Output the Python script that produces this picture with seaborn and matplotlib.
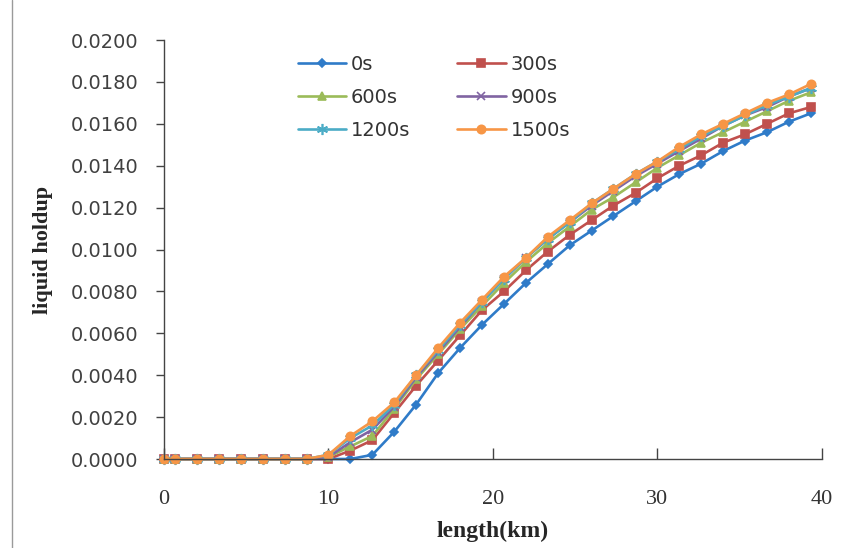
import matplotlib
matplotlib.use("Agg")
import matplotlib.pyplot as plt
import seaborn as sns
import pandas as pd
from matplotlib.lines import Line2D

length_km = [0, 0.67, 2.0, 3.33, 4.67, 6.0, 7.33, 8.67, 10.0, 11.33, 12.67, 14.0, 15.33,
             16.67, 18.0, 19.33, 20.67, 22.0, 23.33, 24.67, 26.0, 27.33, 28.67, 30.0,
             31.33, 32.67, 34.0, 35.33, 36.67, 38.0, 39.33]

holdup_0s = [0, 0, 0, 0, 0, 0, 0, 0, 0, 0.0000, 0.0002, 0.0013, 0.0026, 0.0041, 0.0053,
             0.0064, 0.0074, 0.0084, 0.0093, 0.0102, 0.0109, 0.0116, 0.0123, 0.0130,
             0.0136, 0.0141, 0.0147, 0.0152, 0.0156, 0.0161, 0.0165]
holdup_300s = [0, 0, 0, 0, 0, 0, 0, 0, 0, 0.0004, 0.0009, 0.0022, 0.0035, 0.0047, 0.0059,
               0.0071, 0.0080, 0.0090, 0.0099, 0.0107, 0.0114, 0.0121, 0.0127, 0.0134,
               0.0140, 0.0145, 0.0151, 0.0155, 0.0160, 0.0165, 0.0168]
holdup_600s = [0, 0, 0, 0, 0, 0, 0, 0, 0.0001, 0.0006, 0.0011, 0.0024, 0.0038, 0.0050, 0.0062,
               0.0073, 0.0084, 0.0094, 0.0103, 0.0111, 0.0119, 0.0125, 0.0132, 0.0139,
               0.0145, 0.0151, 0.0156, 0.0161, 0.0166, 0.0171, 0.0175]
holdup_900s = [0, 0, 0, 0, 0, 0, 0, 0, 0.0001, 0.0008, 0.0014, 0.0025, 0.0039, 0.0051, 0.0063,
               0.0075, 0.0086, 0.0096, 0.0105, 0.0113, 0.0121, 0.0128, 0.0135, 0.0141,
               0.0147, 0.0153, 0.0159, 0.0164, 0.0168, 0.0173, 0.0177]
holdup_1200s = [0, 0, 0, 0, 0, 0, 0, 0, 0.0002, 0.0010, 0.0016, 0.0026, 0.0040, 0.0052, 0.0064,
                0.0075, 0.0086, 0.0096, 0.0105, 0.0113, 0.0122, 0.0129, 0.0136, 0.0142,
                0.0148, 0.0154, 0.0159, 0.0164, 0.0169, 0.0173, 0.0177]
holdup_1500s = [0, 0, 0, 0, 0, 0, 0, 0, 0.0002, 0.0011, 0.0018, 0.0027, 0.0040, 0.0053, 0.0065,
                0.0076, 0.0087, 0.0096, 0.0106, 0.0114, 0.0122, 0.0129, 0.0136, 0.0142,
                0.0149, 0.0155, 0.0160, 0.0165, 0.0170, 0.0174, 0.0179]

series_names = ["0s", "300s", "600s", "900s", "1200s", "1500s"]
series_values = [holdup_0s, holdup_300s, holdup_600s, holdup_900s, holdup_1200s, holdup_1500s]
colors = ["#2f7bc8", "#c0504d", "#9bbb59", "#8064a2", "#4bacc6", "#f79646"]
markers = ["D", "s", "^", "x", (6, 2, 0), "o"]
msizes = [4.5, 5.5, 6, 6, 8, 6]

x_ticks = [0, 10, 20, 30, 40]
y_ticks = [0.0, 0.002, 0.004, 0.006, 0.008, 0.010, 0.012, 0.014, 0.016, 0.018, 0.020]

sns.set_style("white")
plt.rcParams["font.family"] = ["DejaVu Sans"]

fig = plt.figure(figsize=(8.56, 5.48), dpi=100)
ax = fig.add_axes([0.1916, 0.1624, 0.7685, 0.7646])

for name, vals, c, m, ms in zip(series_names, series_values, colors, markers, msizes):
    df = pd.DataFrame({"length": length_km, "holdup": vals})
    sns.lineplot(data=df, x="length", y="holdup", ax=ax, color=c, marker=m,
                 markersize=ms, markeredgecolor=c, markeredgewidth=1.2,
                 linewidth=1.9, label=name, clip_on=False, sort=False)

ax.set_xlim(0, 40)
ax.set_ylim(0, 0.02)
ax.set_xticks(x_ticks)
ax.set_yticks(y_ticks)
ax.set_yticklabels([f"{v:.4f}" for v in y_ticks])
ax.set_xticklabels([str(v) for v in x_ticks],
                   family=["Liberation Serif", "DejaVu Serif"], fontsize=16)

for s in ["top", "right"]:
    ax.spines[s].set_visible(False)
for s in ["left", "bottom"]:
    ax.spines[s].set_color("#444444")
    ax.spines[s].set_linewidth(1.0)

ax.tick_params(axis="y", direction="out", length=6, width=1, color="#444444",
               pad=12.5, labelsize=14, labelcolor="#404040")
ax.tick_params(axis="x", direction="in", length=8, width=1, color="#444444",
               pad=22, labelcolor="#333333")
ax.xaxis.set_tick_params(which="both", bottom=True)
ax.yaxis.set_tick_params(which="both", left=True)

ax.set_xlabel("length(km)", fontsize=17, fontweight="bold",
              family=["Liberation Serif", "DejaVu Serif"], labelpad=9)
ax.set_ylabel("liquid holdup", fontsize=16, fontweight="bold",
              family=["Liberation Serif", "DejaVu Serif"], labelpad=13)

handles, labels = ax.get_legend_handles_labels()
order = [0, 2, 4, 1, 3, 5]
ax.legend([handles[i] for i in order], [labels[i] for i in order], ncol=2,
          loc="upper left", bbox_to_anchor=(0.203, 0.965), frameon=False,
          fontsize=14, handlelength=2.5, handletextpad=0.25, columnspacing=2.4,
          labelspacing=0.73, borderaxespad=0, borderpad=0)
for t in ax.get_legend().get_texts():
    t.set_color("#333333")

fig.add_artist(Line2D([0.014, 0.014], [0.0, 1.0], color="#9a9a9a", linewidth=1.0,
                      transform=fig.transFigure))

fig.savefig("out.png", dpi=100)
